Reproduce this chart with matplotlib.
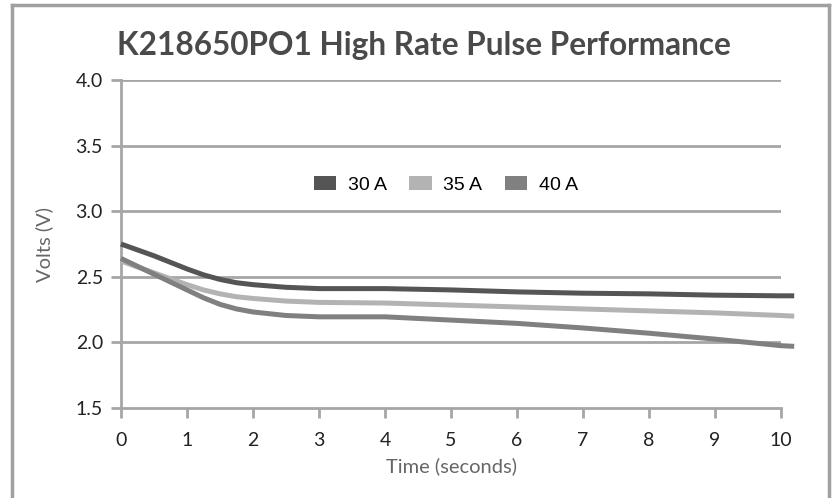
import matplotlib.pyplot as plt
from matplotlib.lines import Line2D
from matplotlib.patches import Patch

plt.rcParams['font.family'] = ['Lato', 'DejaVu Sans']

# time points (seconds) and voltages
time = [0, 0.5, 1, 1.25, 1.5, 1.75, 2, 2.5, 3, 4, 5, 6, 7, 8, 9, 10, 10.2]
v_30a = [2.75, 2.66, 2.56, 2.515, 2.48, 2.455, 2.44, 2.42, 2.41, 2.41, 2.40, 2.385, 2.375, 2.37, 2.36, 2.355, 2.355]
v_35a = [2.62, 2.53, 2.44, 2.40, 2.37, 2.348, 2.335, 2.315, 2.305, 2.30, 2.285, 2.27, 2.255, 2.24, 2.225, 2.205, 2.20]
v_40a = [2.64, 2.52, 2.40, 2.34, 2.29, 2.255, 2.232, 2.205, 2.195, 2.195, 2.17, 2.145, 2.11, 2.07, 2.025, 1.975, 1.97]

series = [('30 A', v_30a, '#555555'),
          ('35 A', v_35a, '#b3b3b3'),
          ('40 A', v_40a, '#808080')]

x_ticks = list(range(0, 11))
y_ticks = [1.5, 2.0, 2.5, 3.0, 3.5, 4.0]

fig = plt.figure(figsize=(8.34, 4.98), dpi=100)
ax = fig.add_axes([121 / 834, 1 - 408 / 498, 660 / 834, 328 / 498])

grid_c = '#a6a6a6'
for y in y_ticks[1:]:
    ax.axhline(y, color=grid_c, lw=2, zorder=1)

for name, vals, col in series:
    ax.plot(time, vals, color=col, lw=3.6, solid_capstyle='butt',
            solid_joinstyle='round', clip_on=False, zorder=3)

ax.set_xlim(0, 10)
ax.set_ylim(1.5, 4.0)
ax.set_xticks(x_ticks)
ax.set_yticks(y_ticks)
ax.set_yticklabels([f'{y:.1f}' for y in y_ticks])

for s in ['top', 'right']:
    ax.spines[s].set_visible(False)
for s in ['left', 'bottom']:
    ax.spines[s].set_color(grid_c)
    ax.spines[s].set_linewidth(2)
ax.tick_params(axis='both', colors=grid_c, width=2, length=7,
               labelcolor='#222222', labelsize=14)
ax.tick_params(axis='x', pad=10)
ax.tick_params(axis='y', pad=6)

ax.set_xlabel('Time (seconds)', fontsize=14.5, color='#666666', labelpad=6)
ax.set_ylabel('Volts (V)', fontsize=14.5, color='#666666', labelpad=16)

fig.text(0.508, 0.908, 'K218650PO1 High Rate Pulse Performance', ha='center',
         va='center', fontsize=22.7, fontweight='bold', color='#4a4a4a')

handles = [Patch(facecolor=col, edgecolor='none', label=name)
           for name, vals, col in series]
ax.legend(handles=handles, loc='center', bbox_to_anchor=(0.492, 0.68),
          ncol=3, frameon=False, prop={'family': 'Liberation Sans', 'size': 14},
          handlelength=1.15, handleheight=0.75, columnspacing=1.15,
          handletextpad=0.6)

# outer frame (left, top, right)
frame_c = '#a0a0a0'
fig.add_artist(Line2D([12 / 834, 12 / 834], [0, 1 - 5 / 498], color=frame_c, lw=2.5))
fig.add_artist(Line2D([12 / 834, 829 / 834], [1 - 5 / 498, 1 - 5 / 498], color=frame_c, lw=2.5))
fig.add_artist(Line2D([829 / 834, 829 / 834], [0, 1 - 5 / 498], color=frame_c, lw=2.5))

fig.savefig('out.png', dpi=100)
